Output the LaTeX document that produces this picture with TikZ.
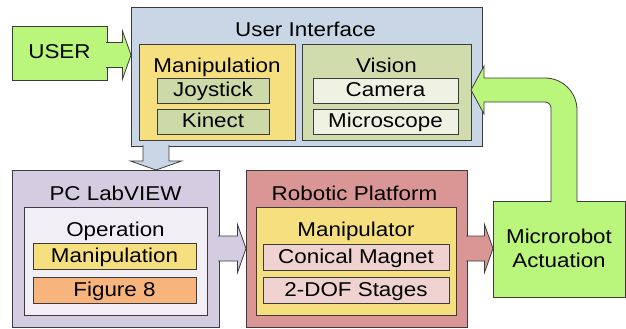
\documentclass[tikz,border=0pt]{standalone}
\usepackage{fontspec}
\setmainfont{Liberation Sans}[FakeStretch=1.12]
\usetikzlibrary{calc}
\definecolor{cline}{HTML}{3C3C3C}
\definecolor{cgreen}{HTML}{BAF67C}
\definecolor{uiblue}{HTML}{C8D6E6}
\definecolor{myyellow}{HTML}{F5DF7F}
\definecolor{khaki}{HTML}{CCDAA8}
\definecolor{visbg}{HTML}{D1DCAC}
\definecolor{camfill}{HTML}{EFF1E3}
\definecolor{lavender}{HTML}{D4CCE1}
\definecolor{operfill}{HTML}{F1EFF5}
\definecolor{orangef}{HTML}{F8B47D}
\definecolor{robred}{HTML}{DA9694}
\definecolor{pinkf}{HTML}{F0D2D0}
\newcommand{\myharrow}[3]{%
  \path[aline, fill=#3] ($(#1)+(0,-12.5)$) -- ($(#2)+(-8.5,-12.5)$) -- ($(#2)+(-8.5,-24)$) -- (#2)
    -- ($(#2)+(-8.5,24)$) -- ($(#2)+(-8.5,12.5)$) -- ($(#1)+(0,12.5)$);}
\newcommand{\myvarrow}[3]{%
  \path[aline, fill=#3] ($(#1)+(-13,0)$) -- ($(#2)+(-13,-9)$) -- ($(#2)+(-25.5,-9)$) -- (#2)
    -- ($(#2)+(25.5,-9)$) -- ($(#2)+(13,-9)$) -- ($(#1)+(13,0)$);}
\begin{document}
\begin{tikzpicture}[x=1pt,y=-1pt,font=\fontsize{20}{24}\selectfont,
  box/.style={draw=cline, line width=0.8pt, inner sep=0pt, outer sep=0pt},
  tbox/.style={box, text height=14pt, text depth=2pt},
  title/.style={inner sep=0pt, anchor=base},
  aline/.style={draw=cline, line width=0.8pt, line join=miter}]
\useasboundingbox (0,0) rectangle (626,329);

% User
\node[tbox, fill=cgreen, minimum width=95, minimum height=54] (user) at (59.5,53) {USER};

% User interface
\node[box, fill=uiblue, minimum width=351, minimum height=139] (ui) at (306.5,76.5) {};
\node[title] (uit) at ($(ui.north)+(-1,30)$) {User Interface};
\node[box, fill=myyellow, minimum width=156, minimum height=96] (manip) at (217,92) {};
\node[title] (manipt) at ($(manip.north)+(0,29)$) {Manipulation};
\node[tbox, fill=khaki, minimum width=112, minimum height=25] (joy) at (213,90.5) {Joystick};
\node[tbox, fill=khaki, minimum width=112, minimum height=25] (kin) at (213,121.5) {Kinect};
\node[box, fill=visbg, minimum width=169, minimum height=96] (vision) at (386.5,92) {};
\node[title] (visiont) at ($(vision.north)+(0,29)$) {Vision};
\node[tbox, fill=camfill, minimum width=145, minimum height=25] (cam) at (385.5,90.5) {Camera};
\node[tbox, fill=camfill, minimum width=145, minimum height=25] (mic) at (385.5,121.5) {Microscope};

% PC LabVIEW
\node[box, fill=lavender, minimum width=207, minimum height=157] (pc) at (115.5,248.5) {};
\node[title] (pct) at ($(pc.north)+(0,30)$) {PC LabVIEW};
\node[box, fill=operfill, minimum width=183, minimum height=108] (oper) at (115.5,261) {};
\node[title] (opert) at ($(oper.north)+(0,29)$) {Operation};
\node[tbox, fill=myyellow, minimum width=163, minimum height=26] (pman) at (114.5,256) {Manipulation};
\node[tbox, fill=orangef, minimum width=163, minimum height=26] (fig) at (114.5,290) {Figure 8};

% Robotic platform
\node[box, fill=robred, minimum width=221, minimum height=157] (robot) at (356.5,248.5) {};
\node[title] (robott) at ($(robot.north)+(-2,30)$) {Robotic Platform};
\node[box, fill=myyellow, minimum width=200, minimum height=108] (rman) at (356,261) {};
\node[title] (rmant) at ($(rman.north)+(0,29)$) {Manipulator};
\node[tbox, fill=pinkf, minimum width=186, minimum height=26] (con) at (356,257) {Conical Magnet};
\node[tbox, fill=pinkf, minimum width=186, minimum height=26] (dof) at (356,290) {2-DOF Stages};

% Microrobot actuation
\node[box, fill=cgreen, minimum width=132, minimum height=96, align=center] (micro) at (559,249) {};
\node[inner sep=0pt, align=center] (microt) at ($(micro.center)+(0,-1)$) {Microrobot\\Actuation};

% Block arrows
\coordinate (ua) at ($(user.east)+(-1,2)$);
\coordinate (ub) at ($(ui.west |- ua)$);
\myharrow{ua}{ub}{cgreen}

\coordinate (da) at ($(ui.south west)+(25,-1)$);
\coordinate (db) at ($(da |- pc.north)$);
\myvarrow{da}{db}{uiblue}

\coordinate (pa) at ($(pc.east)+(-1,0)$);
\coordinate (pb) at (robot.west);
\myharrow{pa}{pb}{lavender}

\coordinate (ra) at ($(robot.east)+(-1,0)$);
\coordinate (rb) at ($(micro.west |- ra)$);
\myharrow{ra}{rb}{robred}

% Curved feedback arrow
\coordinate (cs) at ($(micro.north)+(5,1)$);
\coordinate (ct) at ($(vision.east)+(0,-2)$);
\coordinate (ck) at ($(ct -| cs)$);
\path[aline, fill=cgreen] ($(cs)+(13,0)$) -- ($(ck)+(13,20)$)
  arc[start angle=0, end angle=-90, radius=32]
  -- ($(ct)+(13,-12)$) -- ($(ct)+(13,-24)$) -- (ct) -- ($(ct)+(13,24)$) -- ($(ct)+(13,12)$)
  -- ($(ck)+(-19,12)$) arc[start angle=-90, end angle=0, radius=6]
  -- ($(cs)+(-13,0)$);
\end{tikzpicture}
\end{document}
